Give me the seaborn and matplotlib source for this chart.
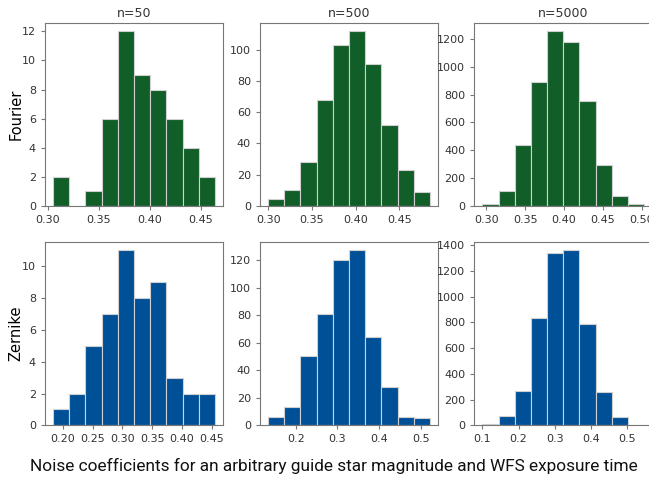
import numpy as np
import pandas as pd
import matplotlib
matplotlib.use("Agg")
import matplotlib.pyplot as plt
from matplotlib.ticker import MultipleLocator
import seaborn as sns

# histogram counts (10 bins each)
sizes = [50, 500, 5000]
fourier_ranges = [(0.305, 0.4637), (0.300, 0.485), (0.2949, 0.5034)]
fourier_counts = [
    [2, 0, 1, 6, 12, 9, 8, 6, 4, 2],
    [4, 10, 28, 68, 103, 112, 91, 52, 23, 9],
    [14, 103, 434, 889, 1254, 1181, 751, 290, 72, 12],
]
zernike_ranges = [(0.1832, 0.4556), (0.134, 0.5214), (0.100, 0.5478)]
zernike_counts = [
    [1, 2, 5, 7, 11, 8, 9, 3, 2, 2],
    [6, 13, 50, 81, 120, 127, 64, 28, 6, 5],
    [10, 75, 267, 831, 1340, 1360, 788, 262, 62, 5],
]
green, blue = "#115e28", "#005098"
caption = "Noise coefficients for an arbitrary guide star magnitude and WFS exposure time"

fig = plt.figure(figsize=(6.49, 4.79), dpi=100)
lefts = [0.0693, 0.4006, 0.7308]
rows = [(0.5706, 0.382), (0.1121, 0.3833)]

def hist_panel(ax, rng, counts, color):
    edges = np.linspace(rng[0], rng[1], len(counts) + 1)
    df = pd.DataFrame({"x": (edges[:-1] + edges[1:]) / 2, "w": counts})
    sns.histplot(data=df, x="x", weights="w", bins=list(edges), ax=ax, color=color,
                 alpha=1, edgecolor="#d0d0d0", linewidth=0.8)
    ax.set_ylabel("")
    ax.set_xlabel("")
    for s in ax.spines.values():
        s.set_color("#777777")
    ax.tick_params(labelsize=8, colors="#777777", labelcolor="#333333", length=3)

for j in range(3):
    b, h = rows[0]
    ax = fig.add_axes([lefts[j], b, 0.2743, h])
    hist_panel(ax, fourier_ranges[j], fourier_counts[j], green)
    ax.xaxis.set_major_locator(MultipleLocator(0.05))
    ax.set_title(f"n={sizes[j]}", fontsize=9, color="#333333", pad=4)
    if j == 0:
        ax.set_ylabel("Fourier", fontsize=10.5)
        ax.yaxis.set_label_coords(-0.118, 0.5)
    b, h = rows[1]
    ax = fig.add_axes([lefts[j], b, 0.2743, h])
    hist_panel(ax, zernike_ranges[j], zernike_counts[j], blue)
    if j == 0:
        ax.xaxis.set_major_locator(MultipleLocator(0.05))
        ax.set_ylabel("Zernike", fontsize=10.5)
        ax.yaxis.set_label_coords(-0.12, 0.5)

fig.text(0.515, 0.027, caption, ha="center", va="center", fontsize=12.4,
         family=["Roboto", "DejaVu Sans"], color="#111111")

fig.savefig("out.png", dpi=100)
